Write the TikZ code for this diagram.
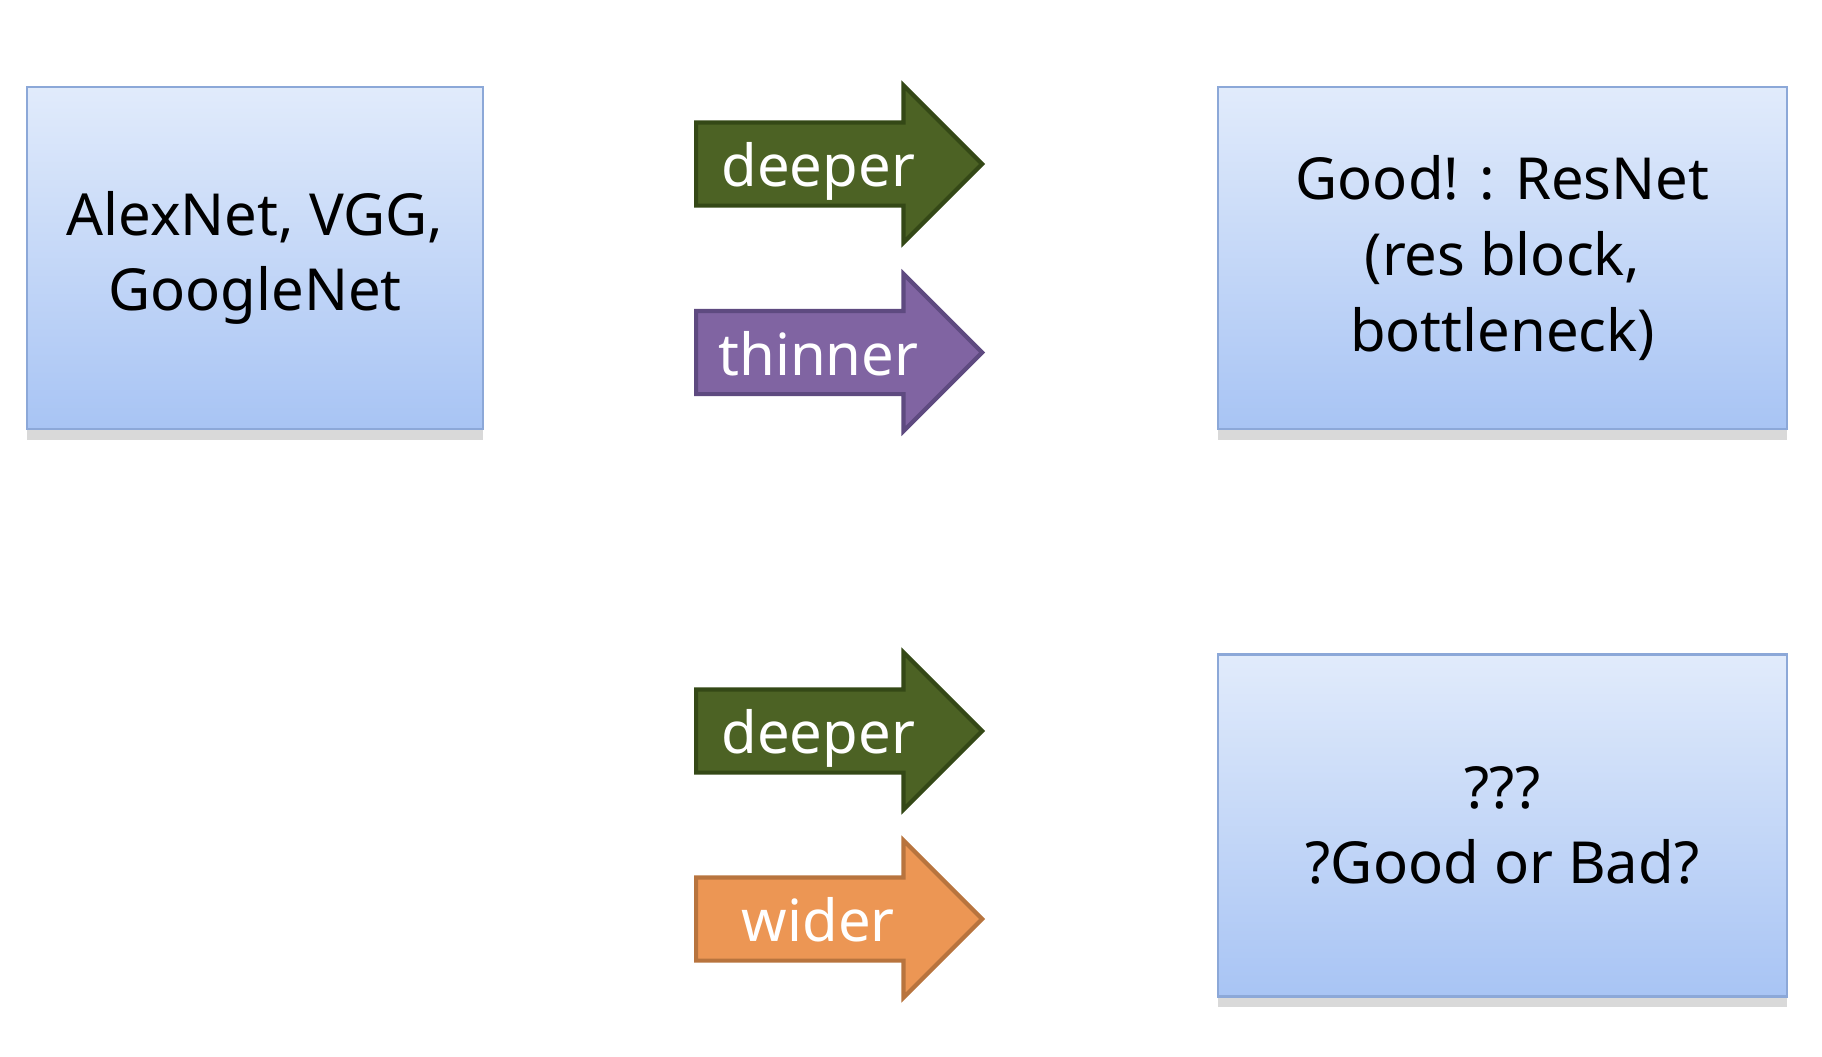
\documentclass[tikz,border=0pt]{standalone}
\usepackage{fontspec}
\setmainfont{Noto Sans}
\usetikzlibrary{shapes.arrows,shadows}
\definecolor{boxtop}{RGB}{225,235,251}
\definecolor{boxbot}{RGB}{168,196,244}
\definecolor{boxline}{RGB}{140,168,216}
\definecolor{deepfill}{RGB}{76,98,36}
\definecolor{deepline}{RGB}{52,72,22}
\definecolor{thinfill}{RGB}{128,100,162}
\definecolor{thinline}{RGB}{94,74,128}
\definecolor{widefill}{RGB}{236,150,84}
\definecolor{wideline}{RGB}{184,116,62}
\begin{document}
\begin{tikzpicture}[font=\fontsize{16.5}{21.5}\selectfont]
      \tikzset{netbox/.style={draw=boxline, line width=0.8pt, top color=boxtop, bottom color=boxbot, align=center, minimum height=3.42cm, drop shadow={shadow xshift=0pt, shadow yshift=-3pt, opacity=0.3}},
        hint/.style={single arrow, line width=1.2pt, text=white, inner ysep=0pt, text height=0.62cm, text depth=0.17cm, single arrow head extend=0.37cm, minimum height=2.86cm, anchor=west}}
      \useasboundingbox (0,0) rectangle (18.22,-10.56);
      \node[netbox, minimum width=4.56cm] (old) at (2.55,-2.58) {AlexNet, VGG,\\GoogleNet};
      \node[netbox, minimum width=5.69cm] (resnet) at (15.025,-2.58) {Good! : ResNet\\(res block,\\bottleneck)};
      \node[netbox, minimum width=5.69cm] (unknown) at (15.025,-8.255) {???\\?Good or Bad?};
      \node[hint, fill=deepfill, draw=deepline] (deep1) at (6.94,-1.64) {deeper};
      \node[hint, fill=thinfill, draw=thinline] (thin) at (6.94,-3.525) {thinner};
      \node[hint, fill=deepfill, draw=deepline] (deep2) at (6.94,-7.31) {deeper};
      \node[hint, fill=widefill, draw=wideline] (wide) at (6.94,-9.19) {wider};
    \end{tikzpicture}
\end{document}
